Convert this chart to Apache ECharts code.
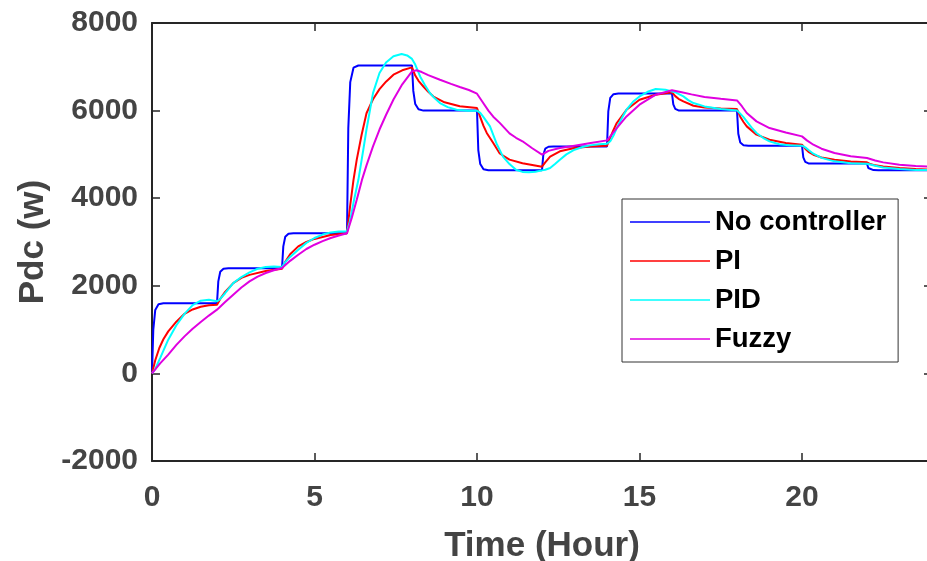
<!DOCTYPE html>
<html>
<head>
<meta charset="utf-8">
<script src="https://cdn.jsdelivr.net/npm/echarts@6/dist/echarts.min.js"></script>
<style>
  html, body { margin: 0; padding: 0; background: #fff; }
  #chart { width: 927px; height: 561px; }
</style>
</head>
<body>
<div id="chart"></div>
<script>
// values: [time (hour), Pdc (w)]
var seriesNames = ['No controller', 'PI', 'PID', 'Fuzzy'];
var seriesColors = ['#0000ff', '#ff0000', '#00ffff', '#e000e0'];

var noController = [
  [0,0],[0.04,1000],[0.1,1450],[0.2,1580],[0.35,1600],
  [2,1600],[2.04,2100],[2.1,2320],[2.2,2390],[2.35,2400],
  [4,2400],[4.04,2900],[4.1,3120],[4.2,3190],[4.35,3200],
  [6,3200],[6.04,5600],[6.1,6650],[6.2,6980],[6.35,7030],
  [8,7030],[8.04,6450],[8.1,6150],[8.2,6030],[8.35,6000],
  [10,6000],[10.04,5100],[10.1,4780],[10.2,4660],[10.35,4640],
  [12,4640],[12.04,4990],[12.1,5130],[12.2,5175],[12.35,5180],
  [14,5180],[14.04,5980],[14.1,6290],[14.2,6375],[14.35,6390],
  [16,6390],[16.04,6140],[16.1,6040],[16.2,6005],[16.35,6000],
  [18,6000],[18.04,5470],[18.1,5270],[18.2,5210],[18.35,5200],
  [20,5200],[20.04,4930],[20.1,4830],[20.2,4795],[20.35,4790],
  [22,4790],[22.04,4690],[22.1,4655],[22.2,4642],[22.35,4640],
  [24,4640]
];

var piCtrl = [
  [0,0],[0.1,300],[0.225,580],[0.35,780],[0.5,960],[0.75,1180],[1,1360],[1.25,1460],[1.5,1520],[1.75,1555],[2,1570],
  [2.1,1700],[2.25,1860],[2.5,2060],[2.75,2180],[3,2250],[3.5,2340],[4,2390],
  [4.1,2550],[4.25,2720],[4.5,2900],[4.75,3000],[5,3070],[5.5,3160],[6,3200],
  [6.1,3850],[6.2,4420],[6.3,4880],[6.45,5450],[6.6,5940],[6.8,6260],[7,6490],[7.2,6660],[7.43,6820],[7.7,6920],[8,6986],
  [8.1,6800],[8.2,6680],[8.35,6550],[8.5,6430],[8.66,6320],[9,6190],[9.47,6100],[10,6060],
  [10.1,5850],[10.2,5650],[10.3,5490],[10.5,5260],[10.7,5020],[11,4880],[11.4,4800],[12,4720],
  [12.1,4820],[12.25,4950],[12.55,5070],[13,5146],[13.5,5180],[14,5199],
  [14.1,5380],[14.2,5560],[14.3,5716],[14.6,6020],[15,6249],[15.5,6363],[16,6416],
  [16.1,6330],[16.2,6270],[16.35,6210],[16.66,6111],[17,6073],[17.5,6050],[18,6036],
  [18.1,5860],[18.2,5740],[18.3,5640],[18.6,5450],[19,5336],[19.5,5260],[20,5221],
  [20.1,5130],[20.2,5060],[20.35,4993],[20.6,4930],[21,4879],[21.5,4840],[22,4818],
  [22.1,4780],[22.25,4750],[22.5,4726],[23,4689],[23.5,4665],[24,4650]
];

var pidCtrl = [
  [0,0],[0.1,100],[0.25,350],[0.5,770],[0.75,1100],[1,1360],[1.25,1560],[1.5,1660],[1.75,1680],[2,1645],
  [2.1,1700],[2.25,1830],[2.5,2060],[2.75,2200],[3,2306],[3.25,2390],[3.5,2430],[3.75,2440],[4,2430],
  [4.1,2540],[4.25,2660],[4.5,2824],[4.75,2980],[5,3091],[5.25,3170],[5.5,3219],[5.75,3240],[6,3242],
  [6.1,3500],[6.2,3900],[6.35,4420],[6.5,5100],[6.6,5568],[6.8,6400],[7,6858],[7.2,7100],[7.43,7240],[7.68,7294],[7.85,7260],[8,7180],
  [8.1,7050],[8.25,6781],[8.4,6580],[8.55,6401],[8.7,6280],[8.86,6173],[9.1,6080],[9.37,6020],[9.7,5995],[10,5998],
  [10.1,5950],[10.2,5850],[10.4,5640],[10.6,5250],[10.8,4950],[11,4780],[11.2,4650],[11.4,4600],[11.6,4590],[11.8,4605],[12,4635],
  [12.1,4650],[12.25,4689],[12.4,4780],[12.55,4879],[12.75,5000],[13,5107],[13.25,5170],[13.48,5206],[13.75,5230],[14,5244],
  [14.1,5300],[14.2,5430],[14.3,5602],[14.45,5820],[14.6,6020],[14.8,6200],[15,6324],[15.25,6430],[15.5,6493],[15.8,6477],[16,6438],
  [16.1,6420],[16.2,6380],[16.35,6324],[16.5,6240],[16.66,6173],[17,6096],[17.5,6036],[18,6005],
  [18.1,5930],[18.2,5850],[18.3,5754],[18.45,5610],[18.6,5488],[18.8,5380],[19,5297],[19.3,5230],[19.6,5210],[20,5199],
  [20.1,5160],[20.2,5100],[20.35,5016],[20.6,4920],[21,4841],[21.5,4800],[22,4788],
  [22.1,4770],[22.25,4740],[22.5,4700],[23,4665],[23.5,4645],[24,4640]
];

var fuzzyCtrl = [
  [0,0],[0.25,230],[0.5,430],[0.75,650],[1,845],[1.25,1020],[1.5,1173],[1.75,1320],[2,1455],
  [2.25,1630],[2.5,1797],[2.75,1960],[3,2100],[3.25,2210],[3.5,2292],[3.75,2355],[4,2406],
  [4.25,2570],[4.5,2710],[4.75,2840],[5,2938],[5.25,3020],[5.5,3091],[5.75,3150],[6,3200],
  [6.15,3560],[6.3,3966],[6.46,4418],[6.6,4750],[6.8,5183],[7,5568],[7.2,5900],[7.43,6253],[7.7,6600],[8,6895],
  [8.14,6920],[8.3,6880],[8.5,6810],[8.86,6705],[9.2,6610],[9.47,6539],[9.75,6470],[10,6386],
  [10.15,6220],[10.35,6000],[10.5,5860],[10.7,5720],[11,5480],[11.2,5380],[11.4,5300],[11.7,5140],[12,4993],
  [12.2,5080],[12.55,5146],[13,5200],[13.5,5260],[14,5320],
  [14.15,5460],[14.3,5602],[14.6,5868],[15,6135],[15.5,6363],[16,6463],
  [16.3,6420],[16.6,6370],[17,6310],[17.5,6270],[18,6233],
  [18.15,6100],[18.3,5945],[18.6,5754],[19,5602],[19.5,5500],[20,5411],
  [20.15,5320],[20.35,5221],[20.6,5130],[21,5031],[21.5,4960],[22,4918],
  [22.25,4860],[22.5,4818],[23,4765],[23.5,4735],[24,4715]
];

var xRange = [0, 24, 5];
var yRange = [-2000, 8000, 2000];

var chart = echarts.init(document.getElementById('chart'));
var font = "'Liberation Sans', Arial, sans-serif";
var axisColor = '#262626';
var labelColor = '#444444';

function makeSeries(name, color, data) {
    return {
        name: name,
        type: 'line',
        data: data,
        symbol: 'none',
        smooth: false,
        lineStyle: { color: color, width: 2 },
        itemStyle: { color: color }
    };
}

function plainAxis(position, showLabel) {
    return {
        type: 'value',
        position: position,
        axisLine: { show: true, onZero: false, lineStyle: { color: axisColor, width: 2 } },
        axisTick: { show: true, inside: true, length: 8, lineStyle: { color: axisColor, width: 1.5 } },
        axisLabel: {
            show: showLabel, margin: 14, fontFamily: font, fontSize: 30, fontWeight: 'bold',
            color: labelColor, showMaxLabel: false,
            formatter: function (v) { return String(v); }
        },
        splitLine: { show: false }
    };
}

var xBottom = plainAxis('bottom', true);
xBottom.min = xRange[0]; xBottom.max = xRange[1]; xBottom.interval = xRange[2];
xBottom.axisLabel.margin = 22;
xBottom.name = 'Time (Hour)';
xBottom.nameLocation = 'middle';
xBottom.nameGap = 68;
xBottom.nameTextStyle = { fontFamily: font, fontSize: 35, fontWeight: 'bold', color: labelColor };

var xTop = plainAxis('top', false);
xTop.min = xRange[0]; xTop.max = xRange[1]; xTop.interval = xRange[2];

var yLeft = plainAxis('left', true);
yLeft.min = yRange[0]; yLeft.max = yRange[1]; yLeft.interval = yRange[2];
yLeft.axisLabel.showMaxLabel = true;
yLeft.name = 'Pdc (w)';
yLeft.nameLocation = 'middle';
yLeft.nameRotate = 90;
yLeft.nameGap = 92;
yLeft.nameTextStyle = { fontFamily: font, fontSize: 35, fontWeight: 'bold', color: labelColor };

var yRight = plainAxis('right', false);
yRight.min = yRange[0]; yRight.max = yRange[1]; yRight.interval = yRange[2];

var option = {
    animation: false,
    grid: { left: 152, top: 23, width: 780, height: 438, outerBoundsMode: 'none', containLabel: false },
    legend: {
        orient: 'vertical',
        left: 622,
        top: 199,
        data: seriesNames,
        icon: 'rect',
        backgroundColor: '#fff',
        borderColor: '#333',
        borderWidth: 1,
        padding: [8, 12, 8, 8],
        itemGap: 9,
        itemWidth: 80,
        itemHeight: 1.5,
        textStyle: { fontFamily: font, fontSize: 27.5, fontWeight: 'bold', color: '#000', lineHeight: 30 }
    },
    xAxis: [xBottom, xTop],
    yAxis: [yLeft, yRight],
    series: [
        makeSeries(seriesNames[0], seriesColors[0], noController),
        makeSeries(seriesNames[1], seriesColors[1], piCtrl),
        makeSeries(seriesNames[2], seriesColors[2], pidCtrl),
        makeSeries(seriesNames[3], seriesColors[3], fuzzyCtrl)
    ]
};

chart.setOption(option);
</script>
</body>
</html>
